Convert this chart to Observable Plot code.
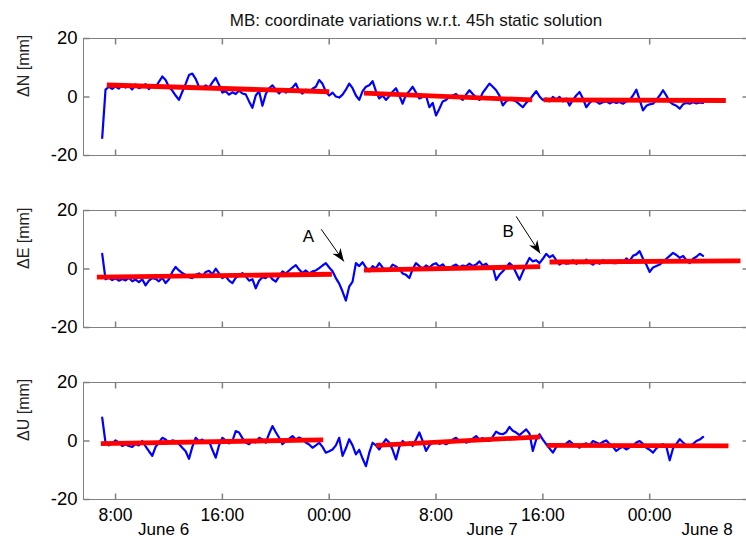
<!DOCTYPE html>
<html><head><meta charset="utf-8">
<script src="https://cdn.jsdelivr.net/npm/d3@7"></script>
<script src="https://cdn.jsdelivr.net/npm/@observablehq/plot@0.6"></script>
<style>
html,body{margin:0;padding:0;background:#fff;overflow:hidden}
#chart{position:relative;width:746px;height:540px;background:#fff}
#chart svg{position:absolute;left:0}
</style></head><body><div id="chart"></div>
<script>
// ---------- data ----------
const chartTitle = "MB: coordinate variations w.r.t. 45h static solution";
// hours counted from June 6, 00:00
const sampleStartHour = 7;
const sampleStepHours = 0.25;

const northValues = [
 -14, 2.5, 3.5, 2.8,   3.6, 2.9, 4.1, 3.2,   3.8, 2.6, 4.3, 3.0,   3.5, 4.4, 2.7, 3.9,
 3.3, 5.2, 7.0, 5.8,   3.4, 2.2, 0.5, -1.0,  1.8, 4.5, 7.5, 8.0,   6.2, 3.5, 2.8, 4.0,
 3.2, 5.0, 6.5, 4.2,   1.5, 2.0, 0.8, 1.6,   1.0, 2.2, 1.2, 0.9,   -1.5, -3.7, 0.5, 2.0,
 -3.0, 1.0, 3.0, 4.0,  2.5, 1.2, 2.8, 1.5,   2.6, 3.2, 4.6, 2.0,   1.2, 2.5, 1.8, 2.8,
 3.5, 5.8, 4.5, 1.8,   0.5, 1.5, 0.2, -0.2,  0.8, 2.5, 4.6, 3.0,   0.5, -1.0, 2.0, 3.5,
 4.0, 5.4, 2.0, -0.5,  0.5, -1.0, 0.3, 1.8,  3.0, 0.5, -2.3, 0.8,  2.0, 3.5, 1.5, -0.5,
 0.0, 0.5, -3.5, -2.0, -6.3, -4.0, -1.5, -1.0, 0.0, 0.5, 1.0, -0.2, -1.0, 0.8, 2.3, 1.0,
 0.0, -1.0, 1.5, 3.0,  4.6, 3.5, 2.3, 0.5,   -2.9, -1.5, -0.5, -1.0, -1.5, -2.5, -3.5, -2.0,
 -1.0, 0.5, 2.0, 0.2,  -1.0, -0.5, -1.5, 0.0, -0.8, 0.0, -1.5, -0.5, -2.9, -1.0, 0.5, 1.7,
 -0.5, -3.5, -2.0, -1.0, -1.5, -2.3, -1.8, -1.5, -2.2, -1.6, -2.0, -1.7, -2.3, -1.5, -1.0, 0.5,
 2.5, -1.0, -4.6, -3.0, -2.5, -2.3, -1.0, 0.5, 2.3, 0.5, -1.7, -2.5,  -3.0, -4.0, -2.5, -2.0,
 -2.3, -1.8, -2.2, -1.9, -2.0
];
const eastValues = [
 5.2, -3.5, -3.0, -3.8, -3.2, -4.0, -3.4, -3.9, -3.0, -4.2, -3.6, -4.5, -3.5, -5.6, -4.0, -3.1,
 -3.4, -4.2, -3.0, -4.8, -3.5, -1.0, 0.7, -0.5, -1.4, -2.0, -2.8, -3.1, -2.0, -1.5, -2.5, -1.0,
 -0.6, -1.8, 0.1, -1.5, -3.1, -2.5, -4.0, -4.8, -3.0, -2.2, -1.4, -2.5, -4.0, -3.5, -6.6, -4.0,
 -2.8, -3.1, -2.0, -3.5, -4.3, -2.5, -0.8, -1.5, -0.5, 0.5, 1.3, -0.2, -1.4, -0.5, -1.5, -0.8,
 -0.5, 0.3, 1.2, 2.0,  0.5, -0.8, -3.1, -5.0, -7.7, -10.8, -6.0, -4.3, 2.0, 1.0, 2.3, 0.5,
 -0.8, 1.0, 0.2, 2.0,  0.5, -0.5, -0.2, 1.5,  0.9, 0.0, -1.5, -2.0,  -3.1, 0.0, 2.0, 1.0,
 0.1, 1.2, 0.5, 1.5,   2.0, 0.8, 1.6, 0.3,   0.3, 1.0, 1.5, 0.6,   1.2, 0.9, 1.8, 1.0,
 1.5, 2.6, 1.2, 1.8,   0.3, 0.8, -3.7, -2.0, -0.8, 0.5, 2.0, 1.0,  -1.4, -3.7, -1.0, 1.5,
 3.8, 2.6, 3.0, 2.0,   3.5, 5.2, 4.0, 4.7,   3.0, 1.5, 2.5, 1.8,   2.0, 3.0, 1.8, 2.6,
 2.0, 3.2, 2.2, 1.5,   2.5, 1.8, 3.0, 2.2,   2.6, 2.0, 2.0, 3.0,   2.2, 3.6, 2.8, 4.5,
 5.0, 6.1, 3.5, 1.5,   -1.0, 0.5, 1.0, 1.5,  2.5, 3.5, 4.5, 5.5,   4.8, 3.8, 4.5, 3.0,
 2.0, 3.5, 4.2, 5.2,   4.5
];
const upValues = [
 8.0, -0.6, -1.5, -0.8, 0.2, -0.5, -1.7, -1.2, -1.7, -2.0, -1.0, -1.5, 0.0, -1.8, -3.5, -5.1,
 -2.0, -0.5, 1.1, 0.5, -0.5, 0.2, 0.0, -1.0, -2.3, -3.5, -6.1, -2.0, 1.1, 0.0, 0.5, -0.5,
 0.0, -3.0, -5.7, -1.5, 1.1, 0.2, -0.8, 0.0, 3.4, 2.9, 1.0, -0.5, -1.1, 0.0, -0.5, 1.1,
 0.5, -0.6, 2.5, 5.1,  3.0, 1.1, -1.1, 0.0,  0.8, 1.7, 0.5, 1.2,   0.6, -0.5, -1.2, -2.3,
 -1.5, -0.6, -2.0, -4.0, -3.5, -2.9, -1.5, 1.1, -5.1, -2.5, 0.6, -1.5, -4.6, -3.0, -6.0, -8.6,
 -4.0, -0.6, -1.5, -2.9, -1.0, 0.6, -0.5, -3.0, -6.3, -2.0, 0.0, -1.0, -0.5, -1.7, 0.5, 2.9,
 0.0, -3.4, -1.5, -0.5, 0.0, -1.0, -0.5, -1.1, -0.5, 0.5, 1.1, 0.0,  0.3, -0.6, -0.2, 0.8,
 1.7, 0.5, 1.0, 0.2,   0.0, 1.5, 3.2, 2.5,   2.3, 3.0, 4.8, 3.5,   2.9, 2.0, 3.0, 4.0,
 2.5, -3.4, 0.5, 2.3,  0.5, -1.1, -2.5, -4.0, -2.0, -1.1, -1.5, -0.8, 0.0, -1.0, -1.5, -2.3,
 -1.2, -0.8, -1.5, 0.0, -0.5, -1.0, -0.3, 0.2, -1.0, -2.0, -3.4, -2.5, -2.0, -2.9, -2.2, -1.5,
 -0.5, 0.0, -1.0, -2.3, -3.0, -4.0, -2.5, -1.5, -1.1, -2.0, -6.6, -2.5, -1.0, 0.6, -0.5, -1.5,
 -1.7, -1.0, 0.0, 0.5,  1.4
];

// piecewise linear trends (red): [start hour, end hour] and [start value, end value]
const northTrendHours  = [[7.35, 24.0], [26.6, 39.2], [40.05, 53.7]];
const northTrendValues = [[4.1, 1.8], [1.3, -1.0], [-0.95, -1.2]];
const eastTrendHours   = [[6.6, 24.2], [26.6, 39.8], [40.5, 54.8]];
const eastTrendValues  = [[-2.8, -1.8], [-0.4, 0.8], [2.4, 2.8]];
const upTrendHours     = [[6.9, 23.55], [27.5, 39.8], [40.3, 53.9]];
const upTrendValues    = [[-0.9, 0.4], [-1.5, 1.4], [-1.5, -1.7]];

const panelLabels = ["\u0394N [mm]", "\u0394E [mm]", "\u0394U [mm]"];
const yTickValues = [-20, 0, 20];
const xTickHours  = [8, 16, 24, 32, 40, 48];
const xTickLabels = ["8:00", "16:00", "00:00", "8:00", "16:00", "00:00"];
const dateLabels  = ["June 6", "June 7", "June 8"];
const dateLabelHours = [11.6, 36.2, 52.3];

// annotations in the east panel
const annotLabels = ["A", "B"];
const annotTextHours = [22.45, 37.4];
const annotTextValues = [11.1, 12.8];
const arrowFromHours = [23.4, 38.0];
const arrowFromValues = [13.6, 18.0];
const arrowToHours = [25.1, 39.8];
const arrowToValues = [2.6, 5.3];

// ---------- drawing ----------
const FONT = "'Liberation Sans', Arial, Helvetica, sans-serif";
const GREY = "#808080";
const xDomain = [5.6, 55.4];

const tickInLeft  = {draw(ctx){ ctx.moveTo(0,0); ctx.lineTo(6,0); }};
const tickInRight = {draw(ctx){ ctx.moveTo(0,0); ctx.lineTo(-6,0); }};
const tickInTop   = {draw(ctx){ ctx.moveTo(0,0); ctx.lineTo(0,6); }};
const tickInBottom= {draw(ctx){ ctx.moveTo(0,0); ctx.lineTo(0,-6); }};

function filledHead() {
  const ns = "http://www.w3.org/2000/svg";
  const m = document.createElementNS(ns, "marker");
  m.setAttribute("viewBox", "-13 -5 13 10");
  m.setAttribute("markerWidth", "13");
  m.setAttribute("markerHeight", "10");
  m.setAttribute("markerUnits", "userSpaceOnUse");
  m.setAttribute("orient", "auto");
  m.setAttribute("refX", "0");
  m.setAttribute("refY", "0");
  const p = document.createElementNS(ns, "path");
  p.setAttribute("d", "M-13,-5L0,0L-13,5L-9,0Z");
  p.setAttribute("fill", "black");
  p.setAttribute("stroke", "none");
  m.appendChild(p);
  return m;
}

function seriesRows(values) {
  return values.map((v, i) => ({h: sampleStartHour + i * sampleStepHours, v}));
}
function trendRows(hours, values) {
  return hours.map((hh, i) => ({h1: hh[0], h2: hh[1], v1: values[i][0], v2: values[i][1]}));
}

function panel({values, tHours, tValues, label, top, bottomAxis, extra = [], titleMark = false}) {
  const marginTop = 38, inner = 117;
  const marginBottom = bottomAxis ? 41 : 17;
  const marks = [
    Plot.frame({stroke: GREY, strokeWidth: 1}),
    Plot.dot(yTickValues, {y: d => d, frameAnchor: "left", symbol: tickInLeft, stroke: GREY, fill: "none", r: 3}),
    Plot.dot(yTickValues, {y: d => d, frameAnchor: "right", symbol: tickInRight, stroke: GREY, fill: "none", r: 3}),
    Plot.dot(xTickHours, {x: d => d, frameAnchor: "top", symbol: tickInTop, stroke: GREY, fill: "none", r: 3}),
    Plot.dot(xTickHours, {x: d => d, frameAnchor: "bottom", symbol: tickInBottom, stroke: GREY, fill: "none", r: 3}),
    Plot.text(yTickValues, {y: d => d, text: d => String(d), frameAnchor: "left", textAnchor: "end", dx: -6, fontSize: 18.5, fill: "black"}),
    Plot.text([label], {frameAnchor: "left", dx: -60, rotate: -90, fontSize: 16, fill: "#222"}),
    Plot.line(seriesRows(values), {x: "h", y: "v", stroke: "#0000ff", strokeWidth: 2.2, strokeLinejoin: "round"}),
    Plot.link(trendRows(tHours, tValues), {x1: "h1", y1: "v1", x2: "h2", y2: "v2", stroke: "#ff0000", strokeWidth: 4.8, strokeLinecap: "butt"}),
    ...extra
  ];
  if (bottomAxis) {
    marks.push(Plot.text(xTickHours, {x: d => d, text: (d, i) => xTickLabels[i], frameAnchor: "bottom", lineAnchor: "top", dy: 9, fontSize: 17.5, fill: "black"}));
    marks.push(Plot.text(dateLabelHours, {x: d => d, text: (d, i) => dateLabels[i], frameAnchor: "bottom", lineAnchor: "top", dy: 23, fontSize: 17, fill: "black"}));
  }
  if (titleMark) {
    marks.push(Plot.text([chartTitle], {frameAnchor: "top", lineAnchor: "bottom", dy: -13, fontSize: 17, fill: "#111"}));
  }
  const svg = Plot.plot({
    width: 746,
    height: marginTop + inner + marginBottom,
    marginLeft: 83, marginRight: -2, marginTop, marginBottom,
    x: {domain: xDomain, axis: null},
    y: {domain: [-20, 20], axis: null},
    style: {fontFamily: FONT, background: "white", overflow: "visible"},
    marks
  });
  svg.style.top = top + "px";
  document.getElementById("chart").appendChild(svg);
}

panel({values: northValues, tHours: northTrendHours, tValues: northTrendValues, label: panelLabels[0], top: 0, bottomAxis: false, titleMark: true});

const annotRows = annotLabels.map((t, i) => ({t, th: annotTextHours[i], tv: annotTextValues[i],
  fh: arrowFromHours[i], fv: arrowFromValues[i], eh: arrowToHours[i], ev: arrowToValues[i]}));
panel({values: eastValues, tHours: eastTrendHours, tValues: eastTrendValues, label: panelLabels[1], top: 172, bottomAxis: false,
  extra: [
    Plot.link(annotRows, {x1: "fh", y1: "fv", x2: "eh", y2: "ev", stroke: "black", strokeWidth: 1, markerEnd: filledHead}),
    Plot.text(annotRows, {x: "th", y: "tv", text: "t", fontSize: 17, fill: "black"})
  ]});
panel({values: upValues, tHours: upTrendHours, tValues: upTrendValues, label: panelLabels[2], top: 344, bottomAxis: true});
</script></body></html>
